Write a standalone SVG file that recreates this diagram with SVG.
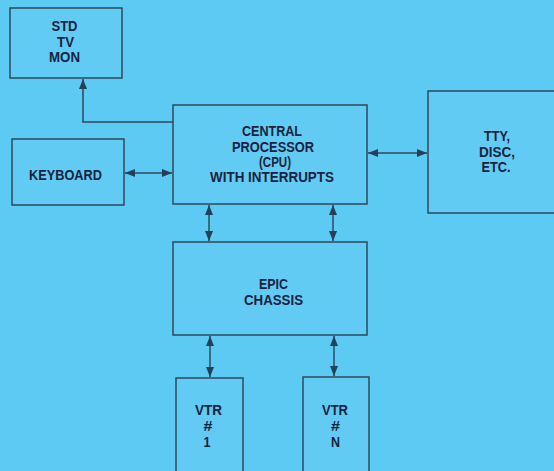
<svg xmlns="http://www.w3.org/2000/svg" width="554" height="471" viewBox="0 0 554 471">
<defs>
<style>
.box{fill:#62cbf4;stroke:#2e4a5c;stroke-width:1.5}
.t{font-family:"Liberation Sans",Arial,sans-serif;font-weight:bold;font-size:14px;fill:#1a2240;text-anchor:middle}
.c{fill:none;stroke:#2e4a5c;stroke-width:1.5}
</style>
<marker id="ah" viewBox="0 0 10 8" refX="10" refY="4" markerWidth="10" markerHeight="8" markerUnits="userSpaceOnUse" orient="auto-start-reverse">
<path d="M0,0 L10,4 L0,8 z" fill="#24405a"/>
</marker>
</defs>
<rect width="554" height="471" fill="#5ccaf3"/>
<g id="connectors">
<path class="c" d="M173,122 H83 V79" marker-end="url(#ah)"/>
<path class="c" d="M125,173 H172" marker-start="url(#ah)" marker-end="url(#ah)"/>
<path class="c" d="M368,153 H427" marker-start="url(#ah)" marker-end="url(#ah)"/>
<path class="c" d="M209,205 V241" marker-start="url(#ah)" marker-end="url(#ah)"/>
<path class="c" d="M333,205 V241" marker-start="url(#ah)" marker-end="url(#ah)"/>
<path class="c" d="M210,336 V377" marker-start="url(#ah)" marker-end="url(#ah)"/>
<path class="c" d="M334,336 V376" marker-start="url(#ah)" marker-end="url(#ah)"/>
</g>
<g id="std-tv-mon">
<rect class="box" x="10" y="8" width="112" height="70"/>
<text class="t" x="64.5" y="31" textLength="26" lengthAdjust="spacingAndGlyphs">STD</text>
<text class="t" x="65.5" y="47" textLength="17" lengthAdjust="spacingAndGlyphs">TV</text>
<text class="t" x="64.5" y="62" textLength="31" lengthAdjust="spacingAndGlyphs">MON</text>
</g>
<g id="keyboard">
<rect class="box" x="12" y="139" width="112" height="66"/>
<text class="t" x="65.5" y="180" textLength="73" lengthAdjust="spacingAndGlyphs">KEYBOARD</text>
</g>
<g id="cpu">
<rect class="box" x="173" y="105" width="194" height="99"/>
<text class="t" x="272" y="136" textLength="60" lengthAdjust="spacingAndGlyphs">CENTRAL</text>
<text class="t" x="273" y="152" textLength="82" lengthAdjust="spacingAndGlyphs">PROCESSOR</text>
<text class="t" x="275" y="167" textLength="32" lengthAdjust="spacingAndGlyphs">(CPU)</text>
<text class="t" x="272" y="182" textLength="124" lengthAdjust="spacingAndGlyphs">WITH INTERRUPTS</text>
</g>
<g id="tty">
<rect class="box" x="428" y="91" width="140" height="122"/>
<text class="t" x="497" y="141" textLength="26" lengthAdjust="spacingAndGlyphs">TTY,</text>
<text class="t" x="497" y="157" textLength="36" lengthAdjust="spacingAndGlyphs">DISC,</text>
<text class="t" x="496" y="172" textLength="29" lengthAdjust="spacingAndGlyphs">ETC.</text>
</g>
<g id="epic">
<rect class="box" x="173" y="242" width="194" height="93"/>
<text class="t" x="273.5" y="289" textLength="29" lengthAdjust="spacingAndGlyphs">EPIC</text>
<text class="t" x="273.5" y="305" textLength="59" lengthAdjust="spacingAndGlyphs">CHASSIS</text>
</g>
<g id="vtr1">
<rect class="box" x="176" y="378" width="67" height="100"/>
<text class="t" x="208.5" y="415" textLength="27" lengthAdjust="spacingAndGlyphs">VTR</text>
<text class="t" x="208" y="431" textLength="9" lengthAdjust="spacingAndGlyphs">#</text>
<text class="t" x="207" y="447" textLength="7" lengthAdjust="spacingAndGlyphs">1</text>
</g>
<g id="vtrn">
<rect class="box" x="303" y="377" width="66" height="100"/>
<text class="t" x="335" y="415" textLength="26" lengthAdjust="spacingAndGlyphs">VTR</text>
<text class="t" x="335.5" y="431" textLength="9" lengthAdjust="spacingAndGlyphs">#</text>
<text class="t" x="335.5" y="447" textLength="9" lengthAdjust="spacingAndGlyphs">N</text>
</g>
</svg>
